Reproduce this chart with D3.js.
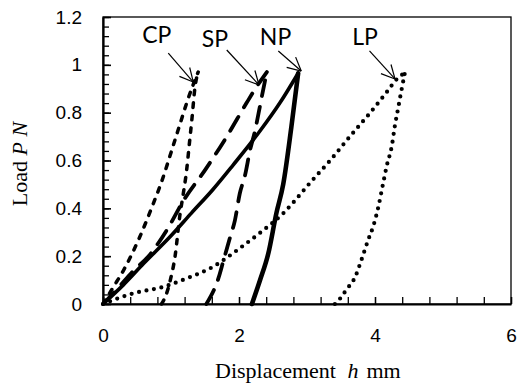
<!DOCTYPE html>
<html><head><meta charset="utf-8">
<script src="https://cdn.jsdelivr.net/npm/d3@7"></script>
<style>body{margin:0;background:#fff}</style>
</head><body><svg id="c" width="518" height="383"></svg>
<script>
// ---- data (displacement h mm, load P N) ----
const cpLoad   = [[0,0],[0.15,0.07],[0.3,0.14],[0.54,0.28],[0.74,0.42],[0.86,0.51],[1.03,0.66],[1.13,0.75],[1.23,0.84],[1.33,0.92],[1.40,0.97]];
const cpUnload = [[0.86,0],[0.93,0.04],[0.99,0.1],[1.06,0.2],[1.13,0.37],[1.18,0.46],[1.23,0.56],[1.27,0.67],[1.31,0.78],[1.35,0.9],[1.40,0.97]];
const spLoad   = [[0,0],[0.2,0.06],[0.45,0.14],[0.67,0.2],[0.94,0.31],[1.2,0.44],[1.5,0.56],[1.82,0.70],[2.11,0.84],[2.24,0.9],[2.41,0.97]];
const spUnload = [[1.52,0],[1.70,0.11],[1.77,0.18],[1.87,0.28],[1.94,0.35],[2.01,0.46],[2.09,0.54],[2.16,0.64],[2.24,0.73],[2.31,0.83],[2.38,0.93],[2.41,0.97]];
const npLoad   = [[0,0],[0.3,0.08],[0.6,0.17],[1.0,0.285],[1.3,0.38],[1.62,0.48],[1.91,0.58],[2.3,0.72],[2.6,0.84],[2.87,0.965]];
const npUnload = [[2.19,0],[2.31,0.1],[2.43,0.21],[2.55,0.38],[2.65,0.5],[2.77,0.74],[2.87,0.965]];
const lpLoad   = [[0,0],[0.45,0.045],[0.89,0.072],[1.23,0.107],[1.62,0.156],[2.01,0.233],[2.36,0.309],[2.65,0.379],[2.8,0.425],[3.04,0.505],[3.34,0.60],[3.63,0.70],[3.93,0.80],[4.17,0.885],[4.32,0.94],[4.44,0.967]];
const lpUnload = [[3.41,0],[3.49,0.024],[3.58,0.06],[3.71,0.114],[3.80,0.184],[3.90,0.268],[3.98,0.33],[4.05,0.407],[4.12,0.505],[4.17,0.574],[4.25,0.665],[4.29,0.741],[4.34,0.818],[4.39,0.895],[4.44,0.967]];

const xTicks = [0,2,4,6];
const yTicks = [0,0.2,0.4,0.6,0.8,1,1.2];

// annotations (data units)
const annLabels = ["CP","SP","NP","LP"];
const annText   = [[0.79,1.09],[1.647,1.076],[2.537,1.083],[3.853,1.083]];
const annFrom   = [[0.96,1.049],[1.82,1.062],[2.578,1.058],[3.919,1.058]];
const annTo     = [[1.328,0.928],[2.294,0.916],[2.915,0.974],[4.294,0.941]];

// ---- chart ----
const svg = d3.select('#c');
const L = 103, R = 511, T = 17, B = 304;
const x = d3.scaleLinear().domain([0,6]).range([L,R]);
const y = d3.scaleLinear().domain([0,1.2]).range([B,T]);

svg.append('rect').attr('x',L).attr('y',T).attr('width',R-L).attr('height',B-T)
  .attr('fill','none').attr('stroke','#000').attr('stroke-width',1.3);

const tickFont = '"Liberation Sans", Arial, sans-serif';

// y axis minor ticks
svg.append('g').attr('transform',`translate(${L},0)`)
  .call(d3.axisLeft(y).tickValues(d3.range(0,1.2001,0.04)).tickSize(-6).tickSizeOuter(0).tickFormat(''))
  .call(g=>g.select('.domain').remove())
  .call(g=>g.selectAll('line').attr('stroke','#000').attr('stroke-width',1.3));
// y axis major
const gy = svg.append('g').attr('transform',`translate(${L},0)`)
  .call(d3.axisLeft(y).tickValues(yTicks).tickSize(-8).tickSizeOuter(0).tickPadding(21).tickFormat(d=>String(d)));
gy.select('.domain').attr('stroke','#000').attr('stroke-width',2.2);
gy.selectAll('line').attr('stroke','#000').attr('stroke-width',1.6);
gy.selectAll('text').attr('font-family',tickFont).attr('font-size',19).attr('fill','#000');

// x axis minor
svg.append('g').attr('transform',`translate(0,${B})`)
  .call(d3.axisBottom(x).tickValues(d3.range(0,6.001,0.4)).tickSize(-7).tickSizeOuter(0).tickFormat(''))
  .call(g=>g.select('.domain').remove())
  .call(g=>g.selectAll('line').attr('stroke','#000').attr('stroke-width',1.3));
const gx = svg.append('g').attr('transform',`translate(0,${B})`)
  .call(d3.axisBottom(x).tickValues(xTicks).tickSize(-7).tickSizeOuter(0).tickPadding(25).tickFormat(d=>String(d)));
gx.select('.domain').attr('stroke','#000').attr('stroke-width',2.2);
gx.selectAll('line').attr('stroke','#000').attr('stroke-width',1.3);
gx.selectAll('text').attr('font-family',tickFont).attr('font-size',19).attr('fill','#000');

// curves
const line = d3.line().x(d=>x(d[0])).y(d=>y(d[1])).curve(d3.curveMonotoneX);
const series = [
  {data:[cpLoad,cpUnload], w:[3.5,3.5], dash:'4.5,8'},
  {data:[spLoad,spUnload], w:[3.8,3.8], dash:'16,11'},
  {data:[npLoad,npUnload], w:[3.6,4.6], dash:null},
  {data:[lpLoad,lpUnload], w:[4.2,4.2], dash:'0,7.6'}
];
series.forEach(s=>{
  s.data.forEach((d,j)=>{
    const p = svg.append('path').attr('d',line(d)).attr('fill','none')
      .attr('stroke','#000').attr('stroke-width',s.w[j])
      .attr('stroke-linecap','round').attr('stroke-linejoin','round');
    if (s.dash) p.attr('stroke-dasharray',s.dash);
  });
});

// annotations
const lblFont = 'Lato, "Open Sans", sans-serif';
annLabels.forEach((t,i)=>{
  svg.append('text').attr('x',x(annText[i][0])).attr('y',y(annText[i][1]))
    .attr('text-anchor','middle').attr('font-family',lblFont).attr('font-size',23).attr('fill','#000').text(t);
  const x1=x(annFrom[i][0]), y1=y(annFrom[i][1]), x2=x(annTo[i][0]), y2=y(annTo[i][1]);
  svg.append('line').attr('x1',x1).attr('y1',y1).attr('x2',x2).attr('y2',y2)
    .attr('stroke','#000').attr('stroke-width',1.2);
  const ang = Math.atan2(y2-y1,x2-x1), hl=15, ha=0.47;
  [ang+Math.PI-ha, ang+Math.PI+ha].forEach(a=>{
    svg.append('line').attr('x1',x2).attr('y1',y2)
      .attr('x2',x2+hl*Math.cos(a)).attr('y2',y2+hl*Math.sin(a))
      .attr('stroke','#000').attr('stroke-width',1.2);
  });
});

// axis titles
const serif = '"Liberation Serif", "Times New Roman", serif';
const xt = svg.append('text').attr('y',378).attr('font-family',serif).attr('font-size',22).attr('fill','#000');
xt.append('tspan').attr('x',215).text('Displacement');
xt.append('tspan').attr('x',347.5).attr('font-style','italic').text('h');
xt.append('tspan').attr('x',366.5).text('mm');

const yt = svg.append('text').attr('transform','translate(27,164) rotate(-90)').attr('text-anchor','middle')
  .attr('font-family',serif).attr('font-size',22).attr('fill','#000');
yt.append('tspan').text('Load ');
yt.append('tspan').attr('font-style','italic').text('P');
yt.append('tspan').text(' ');
yt.append('tspan').attr('font-style','italic').text('N');
</script></body></html>
